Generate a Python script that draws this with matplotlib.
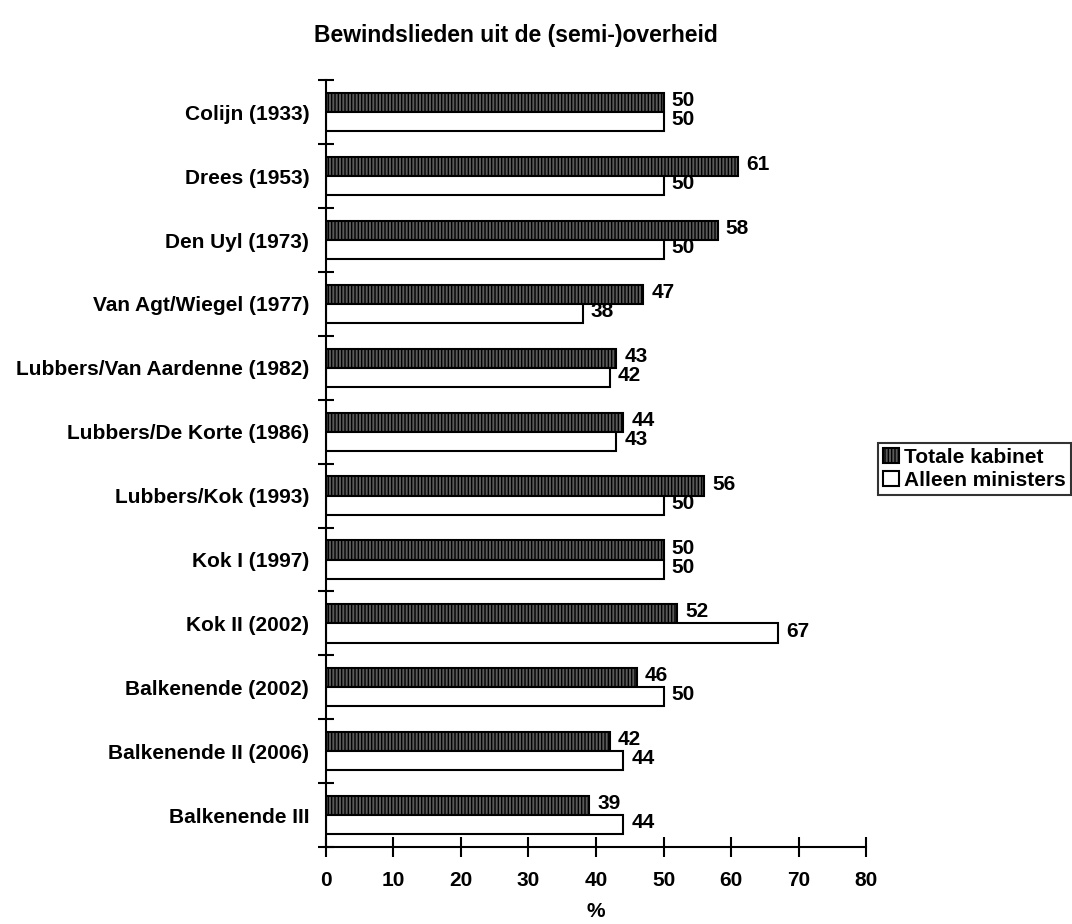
import numpy as np
import matplotlib
matplotlib.use('Agg')
from matplotlib import pyplot as plt

plt.rcParams['font.family'] = ['Liberation Sans', 'DejaVu Sans']
plt.rcParams['font.weight'] = 'bold'
plt.rcParams['hatch.linewidth'] = 1.0
plt.rcParams['hatch.color'] = 'black'

kabinetten = [
    'Colijn (1933)',
    'Drees (1953)',
    'Den Uyl (1973)',
    'Van Agt/Wiegel (1977)',
    'Lubbers/Van Aardenne (1982)',
    'Lubbers/De Korte (1986)',
    'Lubbers/Kok (1993)',
    'Kok I (1997)',
    'Kok II (2002)',
    'Balkenende (2002)',
    'Balkenende II (2006)',
    'Balkenende III',
]
totale_kabinet = [50, 61, 58, 47, 43, 44, 56, 50, 52, 46, 42, 39]
alleen_ministers = [50, 50, 50, 38, 42, 43, 50, 50, 67, 50, 44, 44]

fig = plt.figure(figsize=(10.72, 9.24), dpi=100)
ax = fig.add_axes([0.304, 0.0833, 0.504, 0.8297])

n = len(kabinetten)
y = np.arange(n)
h = 0.3

b1 = ax.barh(y - h / 2, totale_kabinet, height=h, color='#5a5a5a', edgecolor='black',
             linewidth=1.5, hatch='|||||', label='Totale kabinet')
b2 = ax.barh(y + h / 2, alleen_ministers, height=h, color='white', edgecolor='black',
             linewidth=1.5, label='Alleen ministers')

for bars, vals in ((b1, totale_kabinet), (b2, alleen_ministers)):
    for bar, v in zip(bars, vals):
        ax.text(bar.get_width() + 1.2, bar.get_y() + bar.get_height() / 2 - 0.03, str(v),
                va='center', ha='left', fontsize=15, fontweight='bold')

ax.set_ylim(n - 0.5, -0.5)
ax.set_xlim(0, 80)
ax.set_yticks(y)
ax.set_yticklabels(kabinetten, fontsize=15, fontweight='bold')
ax.set_yticks(np.arange(n + 1) - 0.5, minor=True)
ax.tick_params(axis='y', which='major', length=0, pad=12)
ax.tick_params(axis='y', which='minor', direction='inout', length=12, width=1.5)
ax.set_xticks(np.arange(0, 81, 10))
ax.tick_params(axis='x', direction='inout', length=14, width=1.5, labelsize=15, pad=10)
for lab in ax.get_xticklabels():
    lab.set_fontweight('bold')

for s in ('top', 'right'):
    ax.spines[s].set_visible(False)
for s in ('left', 'bottom'):
    ax.spines[s].set_linewidth(1.5)

ax.set_xlabel('%', fontsize=15, fontweight='bold', labelpad=9)
fig.suptitle('Bewindslieden uit de (semi-)overheid', fontsize=16.5, fontweight='bold',
             x=0.481, y=0.974)

leg = fig.legend(handles=[b1, b2], loc='upper left', bbox_to_anchor=(0.819, 0.521),
                 frameon=True, fancybox=False, edgecolor='black', fontsize=15,
                 handlelength=0.75, handleheight=0.75, handletextpad=0.25,
                 borderpad=0.25, labelspacing=0.2, borderaxespad=0)
leg.get_frame().set_linewidth(1.5)
for t in leg.get_texts():
    t.set_fontweight('bold')

fig.savefig('out.png', dpi=100)
